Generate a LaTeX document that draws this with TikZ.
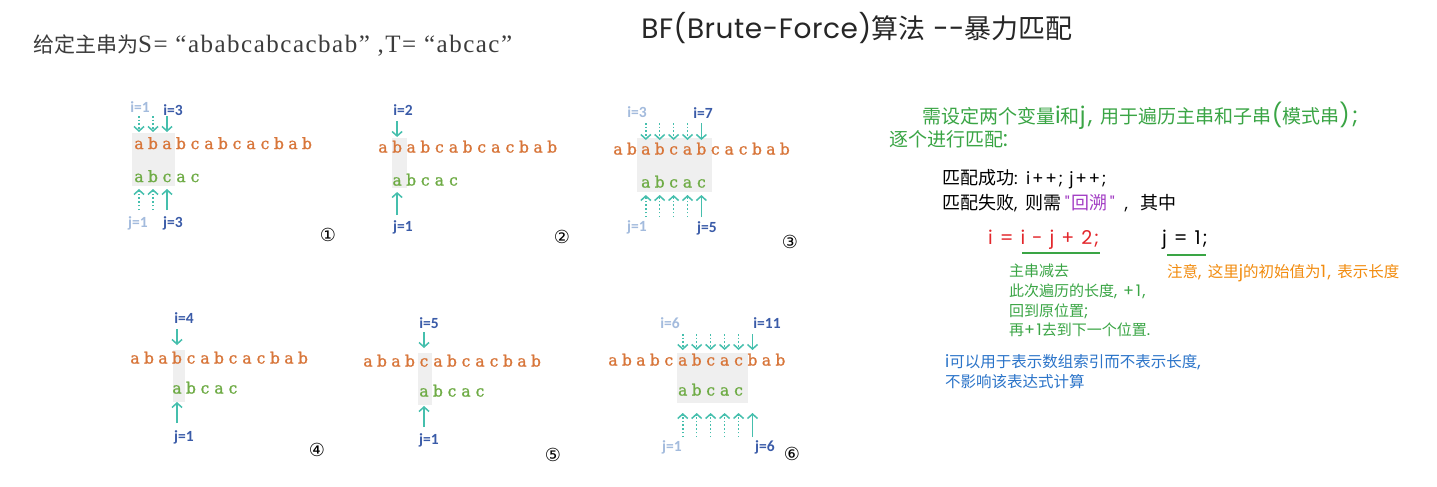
\documentclass[tikz,border=0pt]{standalone}
\usepackage{fontspec}
\setmainfont{Liberation Serif}
\newfontfamily\cjk{Noto Sans CJK SC}
\newfontfamily\lab{Carlito}
\newfontfamily\dvs{DejaVu Sans}
\newfontfamily\strf[FakeBold=1.2]{DejaVu Serif}
\newfontfamily\latf[LetterSpace=10]{Poppins}
\newfontfamily\titf[LetterSpace=2]{Poppins}
\newcommand\la[2]{{\latf\fontsize{#1}{#1}\selectfont #2}}
\usetikzlibrary{arrows.meta}
\definecolor{orng}{HTML}{D8763A}
\definecolor{grn}{HTML}{6FAC46}
\definecolor{arrc}{HTML}{45BFAD}
\definecolor{lblu}{HTML}{A3BBDD}
\definecolor{dblu}{HTML}{3A5BA8}
\definecolor{boxg}{HTML}{EFEFEF}
\definecolor{tgrn}{HTML}{3AA545}
\definecolor{tred}{HTML}{E3262B}
\definecolor{tpur}{HTML}{A23CC4}
\definecolor{torg}{HTML}{F28C0F}
\definecolor{tblu}{HTML}{2B74C9}
\definecolor{tgray}{HTML}{3C3C3C}
\tikzset{
  mainch/.style={anchor=base,inner sep=0pt,text=orng,font=\strf\fontsize{15.5}{15.5}\selectfont},
  patch/.style={mainch,text=grn},
  hl/.style={fill=boxg,draw=none},
  sarr/.style={draw=arrc,line width=1.5pt,-{Straight Barb[length=4.5pt,width=10pt,line width=1.5pt]}},
  darr/.style={sarr,dash pattern=on 1.5pt off 2.2pt},
  ilab/.style={inner sep=0pt,font=\lab\bfseries\fontsize{15.5}{15.5}\selectfont},
  lt/.style={ilab,text=lblu},
  dk/.style={ilab,text=dblu},
  cnum/.style={inner sep=0pt,font=\dvs\fontsize{18}{18}\selectfont},
  rt/.style={anchor=west,inner sep=0pt,font=\cjk\fontsize{15}{15}\selectfont},
  ulin/.style={draw=tgrn,line width=2pt},
}
\newcommand\strpanel[6]{%
  \foreach \c [count=\k from 0] in {a,b,a,b,c,a,b,c,a,c,b,a,b}
    \node[mainch] (#1m\k) at ({#2+#3*\k},#4) {\c};
  \foreach \c [count=\k from 0] in {a,b,c,a,c}
    \node[patch] (#1p\k) at ({#2+#3*(\k+#5)},#6) {\c};
}
\begin{document}
\begin{tikzpicture}[x=1pt,y=-1pt]
\fill[white] (0,0) rectangle (1437,487);
\useasboundingbox (0,0) rectangle (1437,487);

% header texts
\node[anchor=west,inner sep=0pt,text=tgray] (given) at (33,46)
  {{\cjk\fontsize{21}{21}\selectfont 给定主串为}{\fontsize{25}{25}\selectfont\addfontfeatures{LetterSpace=6}S= “ababcabcacbab” ,T= “abcac”}};
\node[inner sep=0pt,text=black!85] (title) at (857,28)
  {{\titf\fontsize{28}{28}\selectfont BF(Brute-Force)}{\cjk\fontsize{27}{27}\selectfont 算法}{\titf\fontsize{28}{28}\selectfont\ --}{\cjk\fontsize{27}{27}\selectfont 暴力匹配}};

% highlight boxes
\fill[hl] (132,133) rectangle (175,186);
\fill[hl] (392,138) rectangle (407,188);
\fill[hl] (637,138) rectangle (712,192);
\fill[hl] (173,350) rectangle (185,402);
\fill[hl] (418,353) rectangle (432,405);
\fill[hl] (677,353) rectangle (748,403);

% panels
\strpanel{A}{139}{14}{149}{0}{182}
\strpanel{B}{383}{14.1}{152.5}{1}{185.5}
\strpanel{C}{618}{13.9}{154.5}{2}{187.5}
\strpanel{D}{135}{14}{363.5}{3}{393.5}
\strpanel{E}{368}{14}{366.5}{4}{396.5}
\strpanel{F}{613}{13.95}{365.5}{5}{395.5}

% panel 1
\node[lt] (Ai1) at (140,107) {i=1};
\node[dk] (Ai3) at (173,110) {i=3};
\draw[darr] (Am0 |- 0,116) -- (Am0 |- 0,132);
\draw[darr] (Am1 |- 0,116) -- (Am1 |- 0,132);
\draw[sarr] (Am2 |- 0,116) -- (Am2 |- 0,132);
\draw[darr] (Ap0 |- 0,210) -- (Ap0 |- 0,189);
\draw[darr] (Ap1 |- 0,210) -- (Ap1 |- 0,189);
\draw[sarr] (Ap2 |- 0,210) -- (Ap2 |- 0,189);
\node[lt] (Aj1) at (138,223) {j=1};
\node[dk] (Aj3) at (173,223) {j=3};
\node[cnum] (An) at (328,235) {①};

% panel 2
\node[dk] (Bi2) at (403,110) {i=2};
\draw[sarr] (Bm1 |- 0,121) -- (Bm1 |- 0,137);
\draw[sarr] (Bp0 |- 0,215) -- (Bp0 |- 0,192);
\node[dk] (Bj1) at (403,227) {j=1};
\node[cnum] (Bn) at (562,237) {②};

% panel 3
\node[lt] (Ci3) at (637,112) {i=3};
\node[dk] (Ci7) at (703,113) {i=7};
\foreach \k in {2,3,4,5} \draw[darr] (Cm\k |- 0,123) -- (Cm\k |- 0,140);
\draw[sarr] (Cm6 |- 0,123) -- (Cm6 |- 0,140);
\foreach \k in {0,1,2,3} \draw[darr] (Cp\k |- 0,217) -- (Cp\k |- 0,195);
\draw[sarr] (Cp4 |- 0,217) -- (Cp4 |- 0,195);
\node[lt] (Cj1) at (637,227) {j=1};
\node[dk] (Cj5) at (707,228) {j=5};
\node[cnum] (Cn) at (790,242) {③};

% panel 4
\node[dk] (Di4) at (184,318) {i=4};
\draw[sarr] (Dm3 |- 0,329) -- (Dm3 |- 0,345);
\draw[sarr] (Dp0 |- 0,423) -- (Dp0 |- 0,402);
\node[dk] (Dj1) at (184,437) {j=1};
\node[cnum] (Dn) at (317,450) {④};

% panel 5
\node[dk] (Ei5) at (429,323) {i=5};
\draw[sarr] (Em4 |- 0,332) -- (Em4 |- 0,348);
\draw[sarr] (Ep0 |- 0,427) -- (Ep0 |- 0,406);
\node[dk] (Ej1) at (429,440) {j=1};
\node[cnum] (En) at (553,455) {⑤};

% panel 6
\node[lt] (Fi6) at (670,323) {i=6};
\node[dk] (Fi11) at (767,323) {i=11};
\foreach \k in {5,6,7,8,9} \draw[darr] (Fm\k |- 0,334) -- (Fm\k |- 0,350);
\draw[sarr] (Fm10 |- 0,334) -- (Fm10 |- 0,350);
\foreach \k in {0,1,2,3,4} \draw[darr] (Fp\k |- 0,437) -- (Fp\k |- 0,413);
\draw[sarr] (Fm10 |- 0,437) -- (Fm10 |- 0,413);
\node[lt] (Fj1) at (672,447) {j=1};
\node[dk] (Fj6) at (765,447) {j=6};
\node[cnum] (Fn) at (792,454) {⑥};

% right side explanation
\node[rt,text=tgrn,font=\cjk\fontsize{19}{19}\selectfont] (r1) at (922,116)
  {需设定两个变量\la{23}{i}和\la{23}{j, }用于遍历主串和子串\la{23}{(}模式串\la{23}{);}};
\node[rt,text=tgrn,font=\cjk\fontsize{19}{19}\selectfont] (r2) at (889,139) {逐个进行匹配\la{22}{:}};
\node[rt,font=\cjk\fontsize{18}{18}\selectfont] (r3) at (942,179) {匹配成功\la{17}{: i++; j++;}};
\node[rt,font=\cjk\fontsize{18}{18}\selectfont] (r4) at (942,203)
  {匹配失败\la{17}{, }\hspace{2pt}则需\hspace{3pt}{\color{tpur}\la{17}{"}\hspace{2pt}回溯\hspace{2pt}\la{17}{"}}\hspace{10pt}\la{17}{,}\hspace{12pt}其中};
\node[rt,text=tred] (r5) at (988,240) {\la{19}{i = i - j + 2;}};
\node[rt] (r6) at (1162,240) {\la{19}{j = 1;}};
\draw[ulin] (1022,253) -- (1100,253);
\draw[ulin] (1167,255) -- (1206,255);
\node[rt,anchor=north west,text=tgrn,align=left,font=\cjk\fontsize{15}{19.7}\selectfont] (r7) at (1009,264)
  {主串减去\\此次遍历的长度\la{16}{, +1,}\\回到原位置\la{16}{;}\\再\la{16}{+1}去到下一个位置\la{16}{.}};
\node[rt,text=torg,font=\cjk\fontsize{15.5}{15.5}\selectfont] (r8) at (1167,273) {注意\la{17}{, }这里\la{17}{j}的初始值为\la{17}{1, }表示长度};
\node[rt,anchor=north west,text=tblu,align=left,font=\cjk\fontsize{15.5}{20}\selectfont] (r9) at (945,354)
  {\la{17}{i}可以用于表示数组索引而不表示长度\la{17}{,}\\不影响该表达式计算};
\end{tikzpicture}
\end{document}
